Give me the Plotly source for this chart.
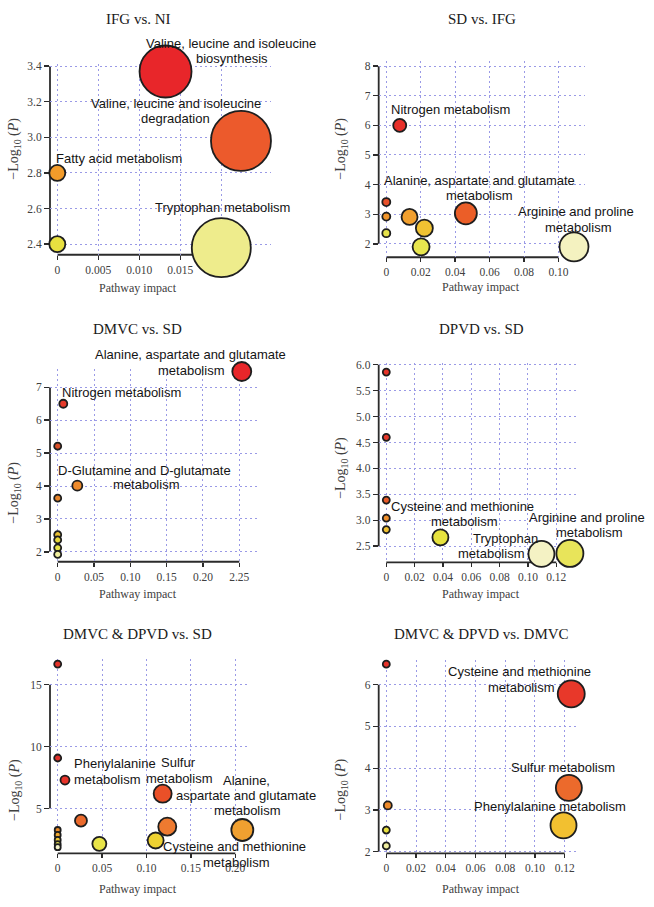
import plotly.graph_objects as go

# ---------------- data ----------------
# Panel 1: IFG vs. NI
p1_impact = [0.0132, 0.0224, 0.0, 0.0, 0.0200]
p1_logp = [3.37, 2.98, 2.80, 2.40, 2.38]
p1_bubble = [52, 60, 16, 16, 59]
p1_color = ["#e8262a", "#ec5a2c", "#f39c2a", "#e8e040", "#eeec8c"]
p1_xticks = [0, 0.005, 0.010, 0.015, 0.020]
p1_xticktext = ["0", "0.005", "0.010", "0.015", ""]
p1_yticks = [2.4, 2.6, 2.8, 3.0, 3.2, 3.4]
p1_yticktext = ["2.4", "2.6", "2.8", "3.0", "3.2", "3.4"]

# Panel 2: SD vs. IFG
p2_impact = [0.0, 0.0078, 0.0, 0.0, 0.0, 0.0135, 0.0221, 0.0202, 0.0462, 0.109]
p2_logp = [8.18, 6.00, 3.41, 2.92, 2.36, 2.91, 2.53, 1.90, 3.03, 1.90]
p2_bubble = [8, 13, 8, 8, 8, 16, 17, 17, 22, 29]
p2_color = ["#e63329", "#e8302a", "#e8502a", "#f0952c", "#e6e24a",
            "#f2a02e", "#f0c232", "#e8e64e", "#eb5e28", "#f4f2c0"]
p2_xticks = [0, 0.02, 0.04, 0.06, 0.08, 0.10]
p2_xticktext = ["0", "0.02", "0.04", "0.06", "0.08", "0.10"]
p2_yticks = [2, 3, 4, 5, 6, 7, 8]
p2_yticktext = ["2", "3", "4", "5", "6", "7", "8"]

# Panel 3: DMVC vs. SD
p3_impact = [0.2534, 0.0077, 0.0, 0.027, 0.0, 0.0, 0.0, 0.0, 0.0]
p3_logp = [7.48, 6.50, 5.21, 4.01, 3.63, 2.52, 2.36, 2.12, 1.92]
p3_bubble = [19, 8, 7, 10, 7, 7, 7, 7, 7]
p3_color = ["#e8262a", "#e63a2a", "#d9502a", "#ee8a2c", "#e8842a",
            "#e8c032", "#e8d83c", "#e8e448", "#f0eea0"]
p3_xticks = [0, 0.05, 0.10, 0.15, 0.20, 0.25]
p3_xticktext = ["0", "0.05", "0.10", "0.15", "0.20", "2.25"]
p3_yticks = [2, 3, 4, 5, 6, 7]
p3_yticktext = ["2", "3", "4", "5", "6", "7"]

# Panel 4: DPVD vs. SD
p4_impact = [0.0, 0.0, 0.0, 0.0, 0.0, 0.0382, 0.1095, 0.1296]
p4_logp = [5.86, 4.60, 3.39, 3.04, 2.82, 2.67, 2.35, 2.36]
p4_bubble = [7, 7, 7, 7, 7, 16, 26, 27]
p4_color = ["#e63329", "#e6392a", "#e85a2a", "#f0902c", "#f0c030",
            "#e6e23e", "#f4f2c4", "#e8e45a"]
p4_xticks = [0, 0.02, 0.04, 0.06, 0.08, 0.10, 0.12]
p4_xticktext = ["0", "0.02", "0.04", "0.06", "0.08", "0.10", "0.12"]
p4_yticks = [2.5, 3.0, 3.5, 4.0, 4.5, 5.0, 5.5, 6.0]
p4_yticktext = ["2.5", "3.0", "3.5", "4.0", "4.5", "5.0", "5.5", "6.0"]

# Panel 5: DMVC & DPVD vs. SD
p5_impact = [0.0, 0.0, 0.0082, 0.1182, 0.0262, 0.0, 0.0, 0.0, 0.0, 0.0,
             0.0469, 0.1234, 0.1103, 0.2079]
p5_logp = [16.66, 9.08, 7.30, 6.20, 4.02, 3.27, 2.87, 2.47, 2.12, 1.88,
           2.15, 3.54, 2.42, 3.27]
p5_bubble = [7, 7, 9, 18, 12, 6, 6, 6, 6, 6, 14, 18, 16, 22]
p5_color = ["#e63329", "#e0302a", "#e8342a", "#ea5028", "#eb6a2c", "#e88a2a",
            "#f0a830", "#f0c838", "#e8e050", "#f4f2c8", "#e8e448", "#ee7a30",
            "#eed232", "#f0a030"]
p5_xticks = [0, 0.05, 0.10, 0.15, 0.20]
p5_xticktext = ["0", "0.05", "0.10", "0.15", "0.20"]
p5_yticks = [5, 10, 15]
p5_yticktext = ["5", "10", "15"]

# Panel 6: DMVC & DPVD vs. DMVC
p6_impact = [0.0, 0.1244, 0.1228, 0.1192, 0.001, 0.0, 0.0]
p6_logp = [6.49, 5.78, 3.53, 2.63, 3.11, 2.52, 2.14]
p6_bubble = [7, 27, 26, 26, 8, 7, 7]
p6_color = ["#e63329", "#e8382a", "#ec6a2c", "#f2c030", "#ee8a2c", "#e8e040", "#eeeca0"]
p6_xticks = [0, 0.02, 0.04, 0.06, 0.08, 0.10, 0.12]
p6_xticktext = ["0", "0.02", "0.04", "0.06", "0.08", "0.10", "0.12"]
p6_yticks = [2, 3, 4, 5, 6]
p6_yticktext = ["2", "3", "4", "5", "6"]

titles = ["IFG vs. NI", "SD vs. IFG", "DMVC vs. SD", "DPVD vs. SD",
          "DMVC & DPVD vs. SD", "DMVC & DPVD vs. DMVC"]
x_title = "Pathway impact"
y_title = "\u2212Log<sub>10</sub> (<i>P</i>)"

# pathway labels: lines of (text, centre x px, centre y px, anchor)
labels = [
    [("Valine, leucine and isoleucine", 230.8, 40, "center"), ("biosynthesis", 232.5, 54.5, "center")],
    [("Valine, leucine and isoleucine", 175.8, 100, "center"), ("degradation", 175.8, 116, "center")],
    [("Fatty acid metabolism", 118.7, 156, "center")],
    [("Tryptophan metabolism", 223, 205.7, "center")],
    [("Nitrogen metabolism", 450.3, 106.7, "center")],
    [("Alanine, aspartate and glutamate", 479.3, 177.7, "center"), ("metabolism", 479.3, 192.7, "center")],
    [("Arginine and proline", 575.7, 209, "center"), ("metabolism", 577.7, 225, "center")],
    [("Alanine, aspartate and glutamate", 190.3, 353.3, "center"), ("metabolism", 191, 370, "center")],
    [("Nitrogen metabolism", 121.7, 391.7, "center")],
    [("D-Glutamine and D-glutamate", 144.7, 470.7, "center"), ("metabolism", 145.7, 485, "center")],
    [("Cysteine and methionine", 462.7, 507.3, "center"), ("metabolism", 463.7, 521.7, "center")],
    [("Tryptophan", 505.3, 539.3, "center"), ("metabolism", 490.8, 554.3, "center")],
    [("Arginine and proline", 587, 518.3, "center"), ("metabolism", 588.8, 532.7, "center")],
    [("Phenylalanine", 72.3, 766.7, "left"), ("metabolism", 72.3, 782.7, "left")],
    [("Sulfur", 178.3, 765, "center"), ("metabolism", 179.2, 781, "center")],
    [("Alanine,", 246.7, 783.3, "center"), ("aspartate and glutamate", 245.5, 799, "center"),
     ("metabolism", 247.2, 814, "center")],
    [("Cysteine and methionine", 234.3, 850, "center"), ("metabolism", 236.2, 865.7, "center")],
    [("Cysteine and methionine", 519.7, 673.3, "center"), ("metabolism", 521.2, 689.3, "center")],
    [("Sulfur metabolism", 562.8, 770.7, "center")],
    [("Phenylalanine metabolism", 549.5, 810, "center")],
]

# ---------------- layout geometry (pixels) ----------------
W, H = 654, 907
# box: left, right, top, bottom ; xcal: px of x=0, px per unit ; ycal: py of ref, ref value, px per unit
geom = [
    dict(box=(50, 271, 61, 253), xcal=(57.3, 8200), ycal=(62.7, 3.4, 179.6),
         title=(138, 15), xt=(137.5, 287), yt=(15, 146)),
    dict(box=(378.7, 585, 58, 255.5), xcal=(386.3, 1722), ycal=(62.7, 8, 29.88),
         title=(482, 15), xt=(481.3, 286), yt=(342, 146)),
    dict(box=(50, 257, 368, 562.7), xcal=(57.7, 726.4), ycal=(386.7, 7, 33.2),
         title=(137.7, 328.3), xt=(137.5, 595), yt=(15, 493)),
    dict(box=(378.7, 577, 362, 563.3), xcal=(386.3, 1416.7), ycal=(364, 6.0, 52.29),
         title=(482, 328.3), xt=(481, 595), yt=(342, 468)),
    dict(box=(50, 250, 661, 857), xcal=(57.7, 888), ycal=(686.7, 15, 12.5),
         title=(137, 636), xt=(137.5, 893.3), yt=(15, 793)),
    dict(box=(378.7, 578, 662, 857), xcal=(386.3, 1486.7), ycal=(686.7, 6, 42.15),
         title=(482, 636), xt=(481, 893.3), yt=(342, 792.5)),
]

data = [
    (p1_impact, p1_logp, p1_bubble, p1_color, p1_xticks, p1_xticktext, p1_yticks, p1_yticktext),
    (p2_impact, p2_logp, p2_bubble, p2_color, p2_xticks, p2_xticktext, p2_yticks, p2_yticktext),
    (p3_impact, p3_logp, p3_bubble, p3_color, p3_xticks, p3_xticktext, p3_yticks, p3_yticktext),
    (p4_impact, p4_logp, p4_bubble, p4_color, p4_xticks, p4_xticktext, p4_yticks, p4_yticktext),
    (p5_impact, p5_logp, p5_bubble, p5_color, p5_xticks, p5_xticktext, p5_yticks, p5_yticktext),
    (p6_impact, p6_logp, p6_bubble, p6_color, p6_xticks, p6_xticktext, p6_yticks, p6_yticktext),
]

SERIF = "Liberation Serif, Times New Roman, serif"
SANS = "Liberation Sans, Arial, Helvetica, sans-serif"
GRID = "#9a9ae6"
AXIS = "#2b2b2b"
TICKFONT = dict(family=SERIF, size=11.5, color="#404040")


def px_to_paper(x, y):
    return x / W, 1 - y / H


fig = go.Figure()
shapes = []
annotations = []

for i, (g, d) in enumerate(zip(geom, data), start=1):
    xs, ys, sz, col, xtv, xtt, ytv, ytt = d
    left, right, top, bottom = g["box"]
    x0px, xppu = g["xcal"]
    yrefpx, yrefval, yppu = g["ycal"]
    xrange_ = [(left - x0px) / xppu, (right - x0px) / xppu]
    yrange_ = [yrefval - (bottom - yrefpx) / yppu, yrefval - (top - yrefpx) / yppu]

    xn = "x" if i == 1 else f"x{i}"
    yn = "y" if i == 1 else f"y{i}"
    xk = "xaxis" if i == 1 else f"xaxis{i}"
    yk = "yaxis" if i == 1 else f"yaxis{i}"

    fig.add_trace(go.Scatter(
        x=xs, y=ys, mode="markers", xaxis=xn, yaxis=yn,
        cliponaxis=False, hoverinfo="skip",
        marker=dict(size=sz, sizemode="diameter", color=col, opacity=1,
                    line=dict(color="#1e1e1e", width=1.8)),
    ))

    fig.layout[xk] = dict(
        domain=[left / W, right / W], range=xrange_, anchor=yn,
        tickvals=xtv, ticktext=xtt, tickfont=TICKFONT,
        ticks="outside", ticklen=4, tickwidth=1.4, tickcolor=AXIS,
        showgrid=True, gridcolor=GRID, gridwidth=1, griddash="2px,3px",
        showline=False, zeroline=False, fixedrange=True, layer="below traces",
    )
    fig.layout[yk] = dict(
        domain=[1 - bottom / H, 1 - top / H], range=yrange_, anchor=xn,
        tickvals=ytv, ticktext=ytt, tickfont=TICKFONT,
        ticks="outside", ticklen=5, tickwidth=1.4, tickcolor=AXIS,
        showgrid=True, gridcolor=GRID, gridwidth=1, griddash="2px,3px",
        showline=False, zeroline=False, fixedrange=True, layer="below traces",
    )

    # base-R style axis lines spanning first to last tick (paper-anchored so not clipped)
    shapes.append(dict(type="line", xref="paper", x0=left / W, x1=left / W,
                       yref=yn, y0=min(ytv), y1=max(ytv), layer="below",
                       line=dict(color=AXIS, width=1.8)))
    shapes.append(dict(type="line", xref=xn, x0=min(xtv), x1=max(xtv),
                       yref="paper", y0=1 - bottom / H, y1=1 - bottom / H, layer="below",
                       line=dict(color=AXIS, width=1.8)))

    tx, ty = px_to_paper(*g["title"])
    annotations.append(dict(text=titles[i - 1], x=tx, y=ty, xref="paper", yref="paper",
                            xanchor="center", yanchor="middle", showarrow=False,
                            font=dict(family=SERIF, size=15, color="#1a1a1a")))
    ax_, ay_ = px_to_paper(*g["xt"])
    annotations.append(dict(text=x_title, x=ax_, y=ay_, xref="paper", yref="paper",
                            xanchor="center", yanchor="middle", showarrow=False,
                            font=dict(family=SERIF, size=12, color="#404040")))
    bx_, by_ = px_to_paper(*g["yt"])
    annotations.append(dict(text=y_title, x=bx_, y=by_, xref="paper", yref="paper",
                            xanchor="center", yanchor="middle", showarrow=False,
                            textangle=-90,
                            font=dict(family=SERIF, size=14, color="#404040")))

for lab in labels:
    for text, cx, cy, anchor in lab:
        lx, ly = px_to_paper(cx, cy)
        annotations.append(dict(text=text, x=lx, y=ly, xref="paper", yref="paper",
                                xanchor=anchor, yanchor="middle", showarrow=False,
                                font=dict(family=SANS, size=13, color="#141414")))

fig.update_layout(
    width=W, height=H, margin=dict(l=0, r=0, t=0, b=0),
    paper_bgcolor="white", plot_bgcolor="rgba(0,0,0,0)", showlegend=False,
    shapes=shapes, annotations=annotations,
)

fig.write_html("out.html", config={"displayModeBar": False, "staticPlot": True},
               post_script="document.body.style.margin='0px';document.body.style.padding='0px';")
